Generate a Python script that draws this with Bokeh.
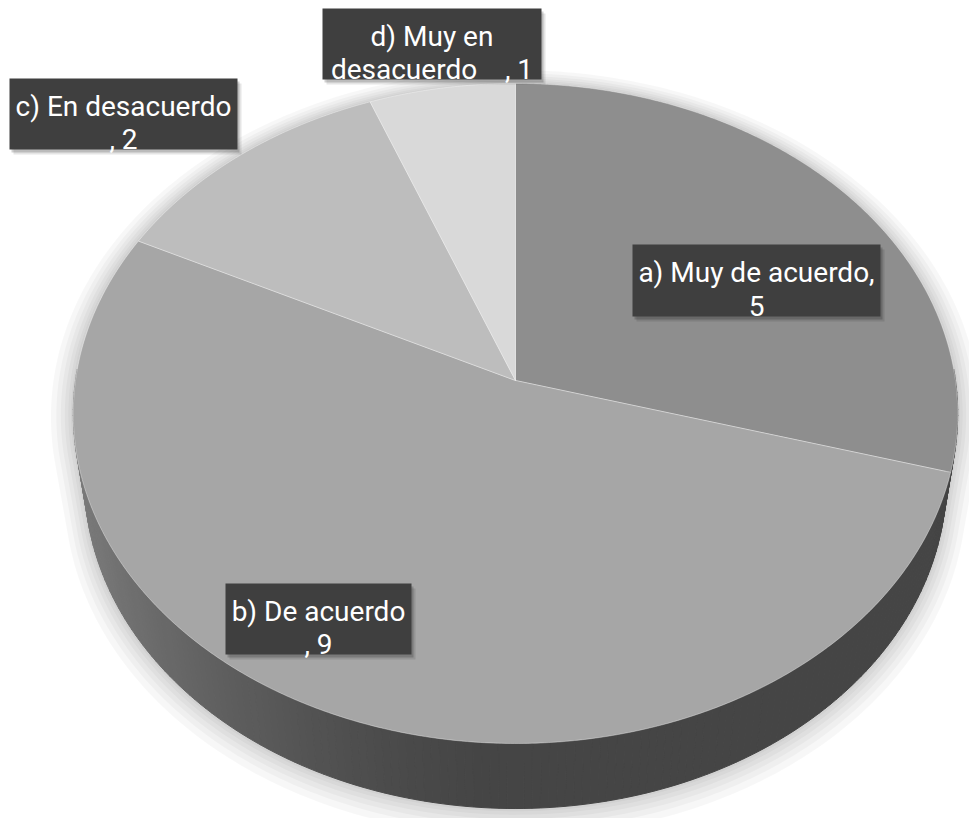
import numpy as np
from bokeh.plotting import figure
from bokeh.models import Range1d, ColumnDataSource
from bokeh.embed import file_html
from bokeh.resources import INLINE
from bokeh.core.properties import value

# ---------------- data ----------------
categories = ["a) Muy de acuerdo", "b) De acuerdo", "c) En desacuerdo", "d) Muy en desacuerdo"]
counts = [5, 9, 2, 1]

# ---------------- style ----------------
top_colors = ["#8e8e8e", "#a6a6a6", "#bdbdbd", "#d9d9d9"]
label_modes = ["comma_first", "value_next", "value_next", "split_cat"]
# label boxes: left, top, width, height (screen pixels)
label_boxes = [(632, 244, 248, 72), (225, 583, 186, 71), (9, 78, 228, 71), (322, 8, 219, 71)]

W, H = 969, 818
CX, CY = 515.0, 380.0          # pie apex on screen
F, D = 2948.0, 6.7             # perspective focal length / camera distance
SIN_T, COS_T = 0.7425, 0.67    # camera elevation
DEPTH = 0.2366                 # thickness of the pie (radius = 1)


def proj(x, y, z):
    x = np.asarray(x, float); y = np.asarray(y, float); z = np.asarray(z, float)
    den = D - (y * SIN_T + z * COS_T)
    sx = CX + F * x / den
    sy = CY - F * (y * COS_T - z * SIN_T) / den
    return sx, sy


def ring(theta_deg, y, r=1.0):
    t = np.radians(theta_deg)
    return proj(r * np.sin(t), np.full_like(t, y, dtype=float), -r * np.cos(t))


def label_lines(cat, v, mode):
    if mode == "comma_first":
        return [f"{cat},", f"{v}"]
    if mode == "value_next":
        return [cat, f", {v}"]
    head, tail = cat.rsplit(" ", 1)
    return [head, f"{tail}\u00a0\u00a0\u00a0\u00a0, {v}"]


def hull(points):
    pts = sorted(set(points))
    if len(pts) <= 2:
        return pts
    def cross(o, a, b):
        return (a[0] - o[0]) * (b[1] - o[1]) - (a[1] - o[1]) * (b[0] - o[0])
    lower, upper = [], []
    for p_ in pts:
        while len(lower) >= 2 and cross(lower[-2], lower[-1], p_) <= 0:
            lower.pop()
        lower.append(p_)
    for p_ in reversed(pts):
        while len(upper) >= 2 and cross(upper[-2], upper[-1], p_) <= 0:
            upper.pop()
        upper.append(p_)
    return lower[:-1] + upper[:-1]


p = figure(width=W, height=H, x_range=Range1d(0, W), y_range=Range1d(H, 0),
           output_backend="svg", toolbar_location=None, min_border=0,
           background_fill_color="white", border_fill_color="white")
p.axis.visible = False
p.grid.visible = False
p.outline_line_color = None

# ---- soft shadow / halo around the solid ----
full = np.linspace(0, 360, 361)
halo_xs, halo_ys = [], []
for k in [0.05, 0.038, 0.028, 0.019, 0.011, 0.005]:
    tx, ty = ring(full, 0.0, 1 + k)
    bx, by = ring(full, -DEPTH - k * 0.6, 1 + k)
    pts = [(round(a, 2), round(b, 2)) for a, b in zip(np.r_[tx, bx], np.r_[ty, by])]
    hp = hull(pts)
    halo_xs.append([q[0] for q in hp])
    halo_ys.append([q[1] for q in hp])
p.patches(halo_xs, halo_ys, fill_color="black", fill_alpha=0.03, line_color=None)

# ---- slice angles ----
total = float(sum(counts))
bounds = np.r_[0, np.cumsum(counts)] / total * 360.0

# ---- side wall (front part), painter's order ----
side_xs, side_ys, side_cols = [], [], []
step = 1.0
thetas = np.arange(88.0, 272.0, step)
order = sorted(thetas, key=lambda t: -np.cos(np.radians(t + step / 2)))
for t0 in order:
    tt = np.array([t0, t0 + step])
    ux, uy = ring(tt, 0.0)
    lx, ly = ring(tt, -DEPTH)
    mid = np.radians(t0 + step / 2)
    shade = max(0.0, -np.sin(mid)) ** 1.6
    g = int(0x45 + (0x7e - 0x45) * shade)
    side_xs.append([ux[0], ux[1], lx[1], lx[0]])
    side_ys.append([uy[0], uy[1], ly[1], ly[0]])
    side_cols.append("#%02x%02x%02x" % (g, g, g))
p.patches(side_xs, side_ys, fill_color=side_cols, line_color=side_cols, line_width=1)

# ---- top faces ----
top_xs, top_ys = [], []
for i in range(len(counts)):
    arc = np.linspace(bounds[i], bounds[i + 1], max(3, int((bounds[i + 1] - bounds[i]) * 2)))
    ax_, ay_ = ring(arc, 0.0)
    top_xs.append([CX] + list(ax_))
    top_ys.append([CY] + list(ay_))
p.patches(top_xs, top_ys, fill_color=top_colors, line_color="white", line_alpha=0.35, line_width=1)

# ---- data labels ----
for i, (cat, v) in enumerate(zip(categories, counts)):
    left, top, bw, bh = label_boxes[i]
    p.quad(left=[left + 4], right=[left + bw + 4], top=[top + 5], bottom=[top + bh + 5],
           fill_color="black", fill_alpha=0.10, line_color=None)
    p.quad(left=[left + 2], right=[left + bw + 2], top=[top + 3], bottom=[top + bh + 3],
           fill_color="black", fill_alpha=0.18, line_color=None)
    p.quad(left=[left], right=[left + bw], top=[top], bottom=[top + bh],
           fill_color="#3f3f3f", line_color=None)
    lines = label_lines(cat, v, label_modes[i])
    cxl = left + bw / 2.0
    cyl = top + bh / 2.0
    for j, ln in enumerate(lines):
        p.text(x=[cxl], y=[cyl - 8 + 33 * j], text=[ln], text_font=value("Roboto"),
               text_font_size="28px", text_color="white", text_align="center",
               text_baseline="alphabetic")

open("out.html", "w").write(file_html(p, INLINE))
